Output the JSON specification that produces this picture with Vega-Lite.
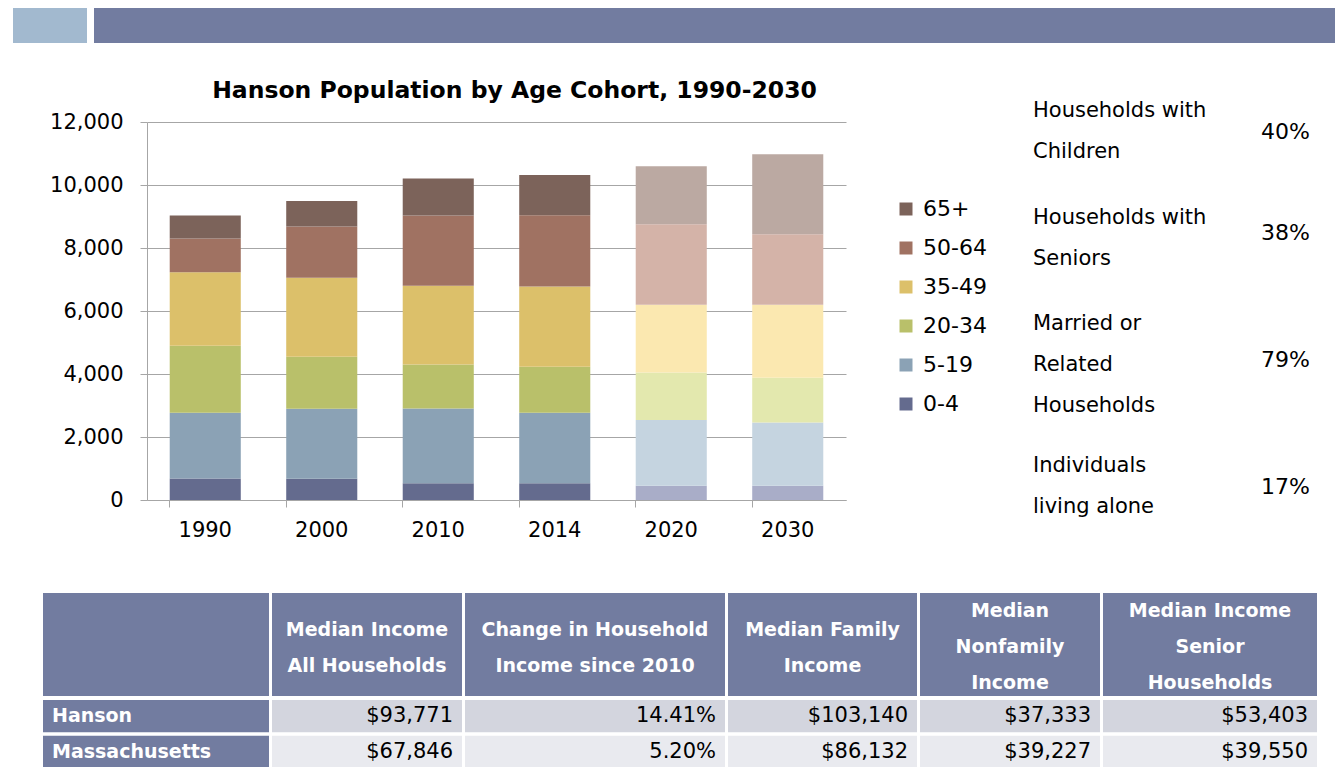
{
  "$schema": "https://vega.github.io/schema/vega-lite/v6.json",
  "background": "white",
  "padding": {"left": 13, "top": 8, "right": 0, "bottom": 0},
  "config": {"font": "DejaVu Sans", "view": {"stroke": null}},
  "datasets": {
    "population": [
      {"year": "1990", "cohort": "0-4", "rank": 1, "status": "Census", "population": 680},
      {"year": "1990", "cohort": "5-19", "rank": 2, "status": "Census", "population": 2090},
      {"year": "1990", "cohort": "20-34", "rank": 3, "status": "Census", "population": 2125},
      {"year": "1990", "cohort": "35-49", "rank": 4, "status": "Census", "population": 2337},
      {"year": "1990", "cohort": "50-64", "rank": 5, "status": "Census", "population": 1068},
      {"year": "1990", "cohort": "65+", "rank": 6, "status": "Census", "population": 729},
      {"year": "2000", "cohort": "0-4", "rank": 1, "status": "Census", "population": 677},
      {"year": "2000", "cohort": "5-19", "rank": 2, "status": "Census", "population": 2220},
      {"year": "2000", "cohort": "20-34", "rank": 3, "status": "Census", "population": 1649},
      {"year": "2000", "cohort": "35-49", "rank": 4, "status": "Census", "population": 2506},
      {"year": "2000", "cohort": "50-64", "rank": 5, "status": "Census", "population": 1628},
      {"year": "2000", "cohort": "65+", "rank": 6, "status": "Census", "population": 815},
      {"year": "2010", "cohort": "0-4", "rank": 1, "status": "Census", "population": 529},
      {"year": "2010", "cohort": "5-19", "rank": 2, "status": "Census", "population": 2379},
      {"year": "2010", "cohort": "20-34", "rank": 3, "status": "Census", "population": 1395},
      {"year": "2010", "cohort": "35-49", "rank": 4, "status": "Census", "population": 2495},
      {"year": "2010", "cohort": "50-64", "rank": 5, "status": "Census", "population": 2231},
      {"year": "2010", "cohort": "65+", "rank": 6, "status": "Census", "population": 1174},
      {"year": "2014", "cohort": "0-4", "rank": 1, "status": "Census", "population": 529},
      {"year": "2014", "cohort": "5-19", "rank": 2, "status": "Census", "population": 2241},
      {"year": "2014", "cohort": "20-34", "rank": 3, "status": "Census", "population": 1459},
      {"year": "2014", "cohort": "35-49", "rank": 4, "status": "Census", "population": 2548},
      {"year": "2014", "cohort": "50-64", "rank": 5, "status": "Census", "population": 2263},
      {"year": "2014", "cohort": "65+", "rank": 6, "status": "Census", "population": 1279},
      {"year": "2020", "cohort": "0-4", "rank": 1, "status": "Projection", "population": 455},
      {"year": "2020", "cohort": "5-19", "rank": 2, "status": "Projection", "population": 2083},
      {"year": "2020", "cohort": "20-34", "rank": 3, "status": "Projection", "population": 1511},
      {"year": "2020", "cohort": "35-49", "rank": 4, "status": "Projection", "population": 2147},
      {"year": "2020", "cohort": "50-64", "rank": 5, "status": "Projection", "population": 2558},
      {"year": "2020", "cohort": "65+", "rank": 6, "status": "Projection", "population": 1840},
      {"year": "2030", "cohort": "0-4", "rank": 1, "status": "Projection", "population": 455},
      {"year": "2030", "cohort": "5-19", "rank": 2, "status": "Projection", "population": 2008},
      {"year": "2030", "cohort": "20-34", "rank": 3, "status": "Projection", "population": 1417},
      {"year": "2030", "cohort": "35-49", "rank": 4, "status": "Projection", "population": 2316},
      {"year": "2030", "cohort": "50-64", "rank": 5, "status": "Projection", "population": 2241},
      {"year": "2030", "cohort": "65+", "rank": 6, "status": "Projection", "population": 2538}
    ],
    "facts": [
      {"item": "children", "label": "Households with\nChildren", "share": "40%"},
      {"item": "seniors", "label": "Households with\nSeniors", "share": "38%"},
      {"item": "related", "label": "Married or\nRelated\nHouseholds", "share": "79%"},
      {"item": "alone", "label": "Individuals\nliving alone", "share": "17%"}
    ],
    "measures": [
      {"key": "c1", "header": ""},
      {"key": "c2", "header": "Median Income\nAll Households"},
      {"key": "c3", "header": "Change in Household\nIncome since 2010"},
      {"key": "c4", "header": "Median Family\nIncome"},
      {"key": "c5", "header": "Median\nNonfamily\nIncome"},
      {"key": "c6", "header": "Median Income\nSenior\nHouseholds"}
    ],
    "incomes": [
      {"region": "Hanson", "key": "c2", "value": "$93,771"},
      {"region": "Hanson", "key": "c3", "value": "14.41%"},
      {"region": "Hanson", "key": "c4", "value": "$103,140"},
      {"region": "Hanson", "key": "c5", "value": "$37,333"},
      {"region": "Hanson", "key": "c6", "value": "$53,403"},
      {"region": "Massachusetts", "key": "c2", "value": "$67,846"},
      {"region": "Massachusetts", "key": "c3", "value": "5.20%"},
      {"region": "Massachusetts", "key": "c4", "value": "$86,132"},
      {"region": "Massachusetts", "key": "c5", "value": "$39,227"},
      {"region": "Massachusetts", "key": "c6", "value": "$39,550"}
    ]
  },
  "spacing": 35,
  "vconcat": [
    {
      "spacing": 7,
      "hconcat": [
        {"width": 74, "height": 35, "data": {"values": [{"part": "accent"}]}, "view": {"fill": "#A2B9CF", "stroke": null}, "mark": {"type": "rect", "color": "#A2B9CF"}, "encoding": {}},
        {"width": 1241, "height": 35, "data": {"values": [{"part": "band"}]}, "view": {"fill": "#727CA0", "stroke": null}, "mark": {"type": "rect", "color": "#727CA0"}, "encoding": {}}
      ]
    },
    {
      "spacing": 47,
      "vconcat": [
        {
          "spacing": 0,
          "hconcat": [
            {"width": 1, "height": 1, "data": {"values": [{"part": "gap"}]}, "mark": {"type": "text"}, "encoding": {"text": {"value": ""}}},
            {
              "spacing": 187,
              "hconcat": [
                {
                  "width": 699,
                  "height": 378,
                  "title": {"text": "Hanson Population by Age Cohort, 1990-2030", "fontSize": 23.5, "fontWeight": "bold", "font": "DejaVu Sans", "color": "black", "anchor": "middle", "frame": "group", "dx": 18, "offset": 9},
                  "data": {"name": "population"},
                  "transform": [{"calculate": "datum.status == 'Projection' ? datum.cohort + ' projected' : datum.cohort", "as": "series"}],
                  "mark": {"type": "bar"},
                  "encoding": {
                    "x": {"field": "year", "type": "ordinal", "title": null,
                      "scale": {"paddingInner": 0.39, "paddingOuter": 0.195},
                      "axis": {"labelAngle": 0, "labelFontSize": 21, "labelColor": "black", "labelPadding": 12, "tickSize": 7, "bandPosition": 0, "tickColor": "#A6A6A6", "domainColor": "#A6A6A6", "grid": false}},
                    "y": {"field": "population", "type": "quantitative", "title": null, "stack": "zero",
                      "scale": {"domain": [0, 12000], "nice": false},
                      "axis": {"values": [0, 2000, 4000, 6000, 8000, 10000, 12000], "format": ",.0f", "labelFontSize": 21, "labelColor": "black", "tickSize": 7, "labelPadding": 17, "minExtent": 133, "tickColor": "#A6A6A6", "domainColor": "#A6A6A6", "gridColor": "#A6A6A6", "grid": true}},
                    "color": {"field": "series", "type": "nominal",
                      "scale": {
                        "domain": ["65+", "50-64", "35-49", "20-34", "5-19", "0-4", "65+ projected", "50-64 projected", "35-49 projected", "20-34 projected", "5-19 projected", "0-4 projected"],
                        "range": ["#7C635A", "#A07262", "#DCC06A", "#B9C06A", "#8BA2B5", "#646B8E", "#BBA9A2", "#D4B3A8", "#FBE8B0", "#E3E8AE", "#C5D4E0", "#A9ADC8"]
                      },
                      "legend": {"values": ["65+", "50-64", "35-49", "20-34", "5-19", "0-4"], "title": null, "orient": "none", "legendX": 882, "legendY": 190, "padding": 0, "labelFontSize": 22, "labelFont": "DejaVu Sans", "labelColor": "black", "symbolType": "square", "symbolSize": 169, "symbolStrokeWidth": 0, "labelOffset": 6, "rowPadding": 17}},
                    "order": {"field": "rank", "type": "quantitative"}
                  }
                },
                {
                  "width": 277,
                  "height": 355,
                  "data": {"name": "facts"},
                  "resolve": {"scale": {"y": "independent"}},
                  "layer": [
                    {"mark": {"type": "text", "align": "left", "baseline": "middle", "fontSize": 21, "lineHeight": 41, "lineBreak": "\n", "color": "black", "dy": -11},
                     "encoding": {
                       "y": {"field": "item", "type": "nominal", "axis": null, "scale": {"type": "point", "padding": 0, "domain": ["children", "l1", "l2", "seniors", "l3", "l4", "related", "l5", "l6", "l7", "alone"]}},
                       "x": {"datum": 0, "type": "quantitative", "scale": {"domain": [0, 1]}, "axis": null},
                       "text": {"field": "label"}}},
                    {"mark": {"type": "text", "align": "right", "baseline": "middle", "fontSize": 22, "color": "black", "dy": 10},
                     "encoding": {
                       "y": {"field": "item", "type": "nominal", "axis": null, "scale": {"type": "point", "padding": 0, "domain": ["children", "p1", "p2", "p3", "seniors", "p4", "p5", "p6", "p7", "related", "p8", "p9", "p10", "p11", "alone"]}},
                       "x": {"datum": 1, "type": "quantitative", "scale": {"domain": [0, 1]}, "axis": null},
                       "text": {"field": "share"}}}
                  ]
                }
              ]
            }
          ]
        },
        {
          "spacing": 29,
          "hconcat": [
            {"width": 1, "height": 1, "data": {"values": [{"part": "gap"}]}, "mark": {"type": "text"}, "encoding": {"text": {"value": ""}}},
            {
              "spacing": 4,
              "vconcat": [
                {
                  "spacing": 3,
                  "hconcat": [
                    {"width": 226, "height": 103, "data": {"name": "measures"}, "transform": [{"filter": "datum.key == 'c1'"}], "mark": {"type": "rect", "color": "#727CA0"}, "encoding": {}},
                    {"width": 190, "height": 103, "data": {"name": "measures"}, "transform": [{"filter": "datum.key == 'c2'"}], "layer": [
                      {"mark": {"type": "rect", "color": "#727CA0"}, "encoding": {}},
                      {"mark": {"type": "text", "color": "white", "fontWeight": "bold", "fontSize": 19, "lineBreak": "\n", "lineHeight": 35.5, "baseline": "middle", "dy": -14.5}, "encoding": {"text": {"field": "header"}}}
                    ]},
                    {"width": 260, "height": 103, "data": {"name": "measures"}, "transform": [{"filter": "datum.key == 'c3'"}], "layer": [
                      {"mark": {"type": "rect", "color": "#727CA0"}, "encoding": {}},
                      {"mark": {"type": "text", "color": "white", "fontWeight": "bold", "fontSize": 19, "lineBreak": "\n", "lineHeight": 35.5, "baseline": "middle", "dy": -14.5}, "encoding": {"text": {"field": "header"}}}
                    ]},
                    {"width": 189, "height": 103, "data": {"name": "measures"}, "transform": [{"filter": "datum.key == 'c4'"}], "layer": [
                      {"mark": {"type": "rect", "color": "#727CA0"}, "encoding": {}},
                      {"mark": {"type": "text", "color": "white", "fontWeight": "bold", "fontSize": 19, "lineBreak": "\n", "lineHeight": 35.5, "baseline": "middle", "dy": -14.5}, "encoding": {"text": {"field": "header"}}}
                    ]},
                    {"width": 180, "height": 103, "data": {"name": "measures"}, "transform": [{"filter": "datum.key == 'c5'"}], "layer": [
                      {"mark": {"type": "rect", "color": "#727CA0"}, "encoding": {}},
                      {"mark": {"type": "text", "color": "white", "fontWeight": "bold", "fontSize": 19, "lineBreak": "\n", "lineHeight": 36, "baseline": "middle", "dy": -33.5}, "encoding": {"text": {"field": "header"}}}
                    ]},
                    {"width": 214, "height": 103, "data": {"name": "measures"}, "transform": [{"filter": "datum.key == 'c6'"}], "layer": [
                      {"mark": {"type": "rect", "color": "#727CA0"}, "encoding": {}},
                      {"mark": {"type": "text", "color": "white", "fontWeight": "bold", "fontSize": 19, "lineBreak": "\n", "lineHeight": 36, "baseline": "middle", "dy": -33.5}, "encoding": {"text": {"field": "header"}}}
                    ]}
                  ]
                },
                {
                  "spacing": 3,
                  "hconcat": [
                    {"width": 226, "height": 68, "data": {"name": "incomes"}, "transform": [{"filter": "datum.key == 'c2'"}],
                     "encoding": {"y": {"field": "region", "type": "nominal", "axis": null, "scale": {"domain": ["Hanson", "Massachusetts"], "paddingInner": 0.1, "paddingOuter": 0}}},
                     "layer": [
                       {"mark": {"type": "rect", "color": "#727CA0"}},
                       {"mark": {"type": "text", "align": "left", "dx": 9, "fontSize": 19, "fontWeight": "bold", "color": "white"},
                        "encoding": {"x": {"datum": 0, "type": "quantitative", "scale": {"domain": [0, 1]}, "axis": null}, "text": {"field": "region"}}}
                     ]},
                    {"width": 190, "height": 68, "data": {"name": "incomes"}, "transform": [{"filter": "datum.key == 'c2'"}],
                     "encoding": {"y": {"field": "region", "type": "nominal", "axis": null, "scale": {"domain": ["Hanson", "Massachusetts"], "paddingInner": 0.1, "paddingOuter": 0}}},
                     "layer": [
                       {"mark": {"type": "rect"}, "encoding": {"fill": {"field": "region", "type": "nominal", "legend": null, "scale": {"domain": ["Hanson", "Massachusetts"], "range": ["#D3D5DE", "#E9EAEF"]}}}},
                       {"mark": {"type": "text", "align": "right", "dx": -9, "fontSize": 21, "color": "black"},
                        "encoding": {"x": {"datum": 1, "type": "quantitative", "scale": {"domain": [0, 1]}, "axis": null}, "text": {"field": "value"}}}
                     ]},
                    {"width": 260, "height": 68, "data": {"name": "incomes"}, "transform": [{"filter": "datum.key == 'c3'"}],
                     "encoding": {"y": {"field": "region", "type": "nominal", "axis": null, "scale": {"domain": ["Hanson", "Massachusetts"], "paddingInner": 0.1, "paddingOuter": 0}}},
                     "layer": [
                       {"mark": {"type": "rect"}, "encoding": {"fill": {"field": "region", "type": "nominal", "legend": null, "scale": {"domain": ["Hanson", "Massachusetts"], "range": ["#D3D5DE", "#E9EAEF"]}}}},
                       {"mark": {"type": "text", "align": "right", "dx": -9, "fontSize": 21, "color": "black"},
                        "encoding": {"x": {"datum": 1, "type": "quantitative", "scale": {"domain": [0, 1]}, "axis": null}, "text": {"field": "value"}}}
                     ]},
                    {"width": 189, "height": 68, "data": {"name": "incomes"}, "transform": [{"filter": "datum.key == 'c4'"}],
                     "encoding": {"y": {"field": "region", "type": "nominal", "axis": null, "scale": {"domain": ["Hanson", "Massachusetts"], "paddingInner": 0.1, "paddingOuter": 0}}},
                     "layer": [
                       {"mark": {"type": "rect"}, "encoding": {"fill": {"field": "region", "type": "nominal", "legend": null, "scale": {"domain": ["Hanson", "Massachusetts"], "range": ["#D3D5DE", "#E9EAEF"]}}}},
                       {"mark": {"type": "text", "align": "right", "dx": -9, "fontSize": 21, "color": "black"},
                        "encoding": {"x": {"datum": 1, "type": "quantitative", "scale": {"domain": [0, 1]}, "axis": null}, "text": {"field": "value"}}}
                     ]},
                    {"width": 180, "height": 68, "data": {"name": "incomes"}, "transform": [{"filter": "datum.key == 'c5'"}],
                     "encoding": {"y": {"field": "region", "type": "nominal", "axis": null, "scale": {"domain": ["Hanson", "Massachusetts"], "paddingInner": 0.1, "paddingOuter": 0}}},
                     "layer": [
                       {"mark": {"type": "rect"}, "encoding": {"fill": {"field": "region", "type": "nominal", "legend": null, "scale": {"domain": ["Hanson", "Massachusetts"], "range": ["#D3D5DE", "#E9EAEF"]}}}},
                       {"mark": {"type": "text", "align": "right", "dx": -9, "fontSize": 21, "color": "black"},
                        "encoding": {"x": {"datum": 1, "type": "quantitative", "scale": {"domain": [0, 1]}, "axis": null}, "text": {"field": "value"}}}
                     ]},
                    {"width": 214, "height": 68, "data": {"name": "incomes"}, "transform": [{"filter": "datum.key == 'c6'"}],
                     "encoding": {"y": {"field": "region", "type": "nominal", "axis": null, "scale": {"domain": ["Hanson", "Massachusetts"], "paddingInner": 0.1, "paddingOuter": 0}}},
                     "layer": [
                       {"mark": {"type": "rect"}, "encoding": {"fill": {"field": "region", "type": "nominal", "legend": null, "scale": {"domain": ["Hanson", "Massachusetts"], "range": ["#D3D5DE", "#E9EAEF"]}}}},
                       {"mark": {"type": "text", "align": "right", "dx": -9, "fontSize": 21, "color": "black"},
                        "encoding": {"x": {"datum": 1, "type": "quantitative", "scale": {"domain": [0, 1]}, "axis": null}, "text": {"field": "value"}}}
                     ]}
                  ]
                }
              ]
            }
          ]
        }
      ]
    }
  ]
}
